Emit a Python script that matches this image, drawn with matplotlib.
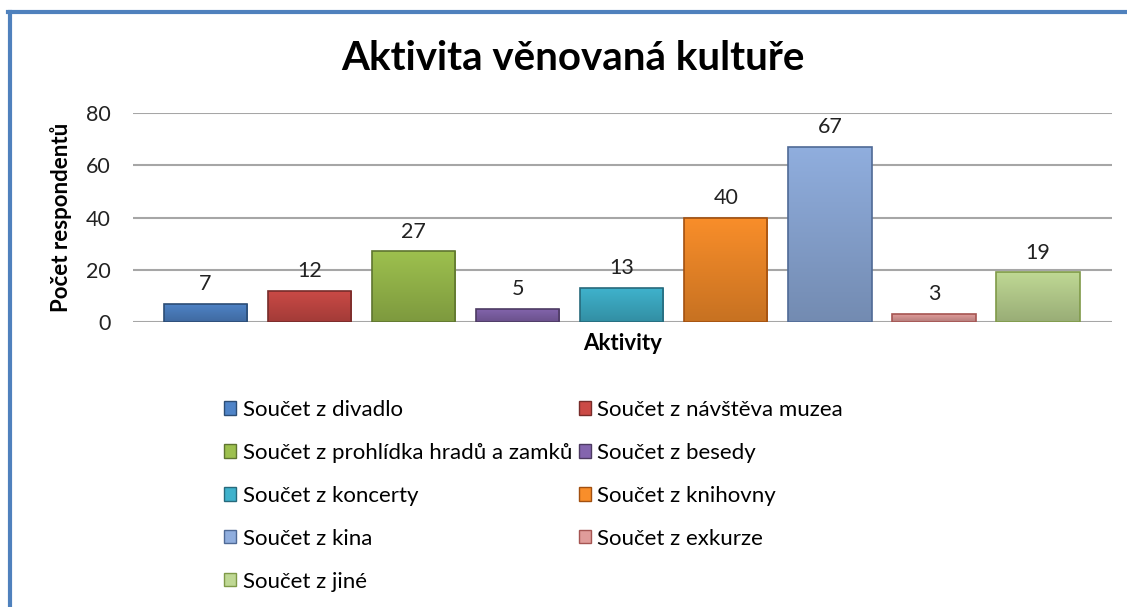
import numpy as np
import matplotlib.pyplot as plt
from matplotlib.lines import Line2D
from matplotlib.patches import Patch
from matplotlib.colors import to_rgb

plt.rcParams['font.family'] = ['Lato', 'DejaVu Sans']

categories = ["divadlo", "návštěva muzea", "prohlídka hradů a zamků", "besedy",
              "koncerty", "knihovny", "kina", "exkurze", "jiné"]
values = [7, 12, 27, 5, 13, 40, 67, 3, 19]
colors = ["#4F84C8", "#CB4A46", "#9DC04E", "#8465AE", "#3FB2CC",
          "#F98E2A", "#90AEDE", "#E09C9A", "#BFD894"]
edges = ["#2C4D75", "#772C2A", "#5F7530", "#4D3B62", "#276A7C",
         "#A25010", "#4F6A96", "#A55552", "#7F9A48"]
yticks = [0, 20, 40, 60, 80]

fig = plt.figure(figsize=(11.27, 6.07), dpi=100)
ax = fig.add_axes([0.118, 0.4695, 0.8687, 0.3443])

x = np.arange(len(values))
bars = ax.bar(x, values, width=0.8, color=colors, linewidth=0, zorder=3)

# vertical gradient in each bar (lighter top, darker bottom)
for b, c in zip(bars, colors):
    top = np.array(to_rgb(c))
    bottom = top * 0.8
    t = np.linspace(0, 1, 64)[:, None, None]
    grad = top * (1 - t) + bottom * t
    bx, bw, bh = b.get_x(), b.get_width(), b.get_height()
    im = ax.imshow(grad, extent=[bx, bx + bw, 0, bh], aspect="auto", zorder=3.1,
                   interpolation="bilinear")
    im.set_clip_path(b)
ax.bar(x, values, width=0.8, facecolor="none", edgecolor=edges, linewidth=1.2, zorder=3.2)

for xi, v in zip(x, values):
    ax.annotate(str(v), xy=(xi, v), xytext=(0, 7), textcoords="offset points",
                ha="center", va="bottom", fontsize=15.5, color="#222222")

ax.set_xlim(-0.696, 8.71)
ax.set_ylim(0, 80)
ax.set_yticks(yticks)
ax.set_xticks([])
ax.yaxis.grid(True, color="#A6A6A6", linewidth=1.5, zorder=0)
ax.tick_params(axis="y", length=0, labelsize=15.5, pad=16, labelcolor="#222222")
for s in ax.spines.values():
    s.set_visible(False)

ax.set_ylabel("Počet respondentů", fontsize=16, fontweight="bold", labelpad=10)
ax.set_xlabel("Aktivity", fontsize=16, fontweight="bold", labelpad=8)
fig.text(0.508, 1 - 58 / 607, "Aktivita věnovaná kultuře", ha="center", va="center",
         fontsize=29, fontweight="bold")

# legend, row order like the original (two columns)
handles = [Patch(facecolor=c, edgecolor=e, label="Součet z " + n)
           for c, e, n in zip(colors, edges, categories)]
order = [0, 2, 4, 6, 8, 1, 3, 5, 7]
fig.legend([handles[i] for i in order], [handles[i].get_label() for i in order],
           ncol=2, loc="upper left", bbox_to_anchor=(0.1807, 0.374), frameon=False,
           fontsize=16, handlelength=0.55, handleheight=0.55, handletextpad=0.3,
           labelspacing=1.03, columnspacing=0.3)

# blue frame on left and top
fig.add_artist(Line2D([0.0085, 0.0085], [0, 0.981], color="#4F81BD", linewidth=3,
                      transform=fig.transFigure))
fig.add_artist(Line2D([0.007, 1.0], [0.980, 0.980], color="#4F81BD", linewidth=3,
                      transform=fig.transFigure))

fig.savefig("out.png", dpi=100)
